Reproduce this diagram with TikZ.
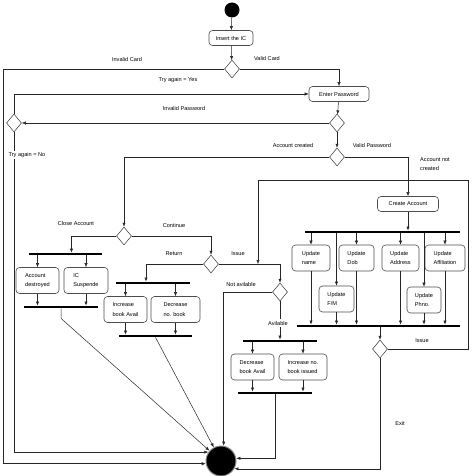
\documentclass[tikz,border=0pt]{standalone}
\usepackage{fontspec}
\setmainfont{Liberation Sans}
\usetikzlibrary{shapes.geometric,arrows.meta}

\begin{document}
\begin{tikzpicture}[x=1pt,y=-1pt,
  every node/.style={font=\fontsize{5.6}{9.5}\selectfont},
  >={Latex[length=4pt,width=3.2pt]},
  line/.style={draw=black!85, line width=0.5pt},
  act/.style={draw=black!70, line width=0.6pt, rounded corners=3.5pt, minimum height=26, align=left, inner sep=1pt},
  dec/.style={draw=black!80, shape=diamond, minimum width=15, minimum height=18, inner sep=0pt, line width=0.5pt},
  bar/.style={fill=black, inner sep=0pt, minimum height=2.4pt},
  lbl/.style={inner sep=1pt}]
\useasboundingbox (0,0) rectangle (474,476);

% start, card and password
\node[circle, fill=black, minimum size=15, inner sep=0pt] (start) at (232,10) {};
\node[act, minimum height=15, minimum width=44] (ins) at (231,38) {Insert the IC};
\node[dec] (d1) at (232,69) {};
\node[act, minimum height=15, minimum width=60] (pwd) at (339,94) {Enter Password};
\node[dec] (d2) at (337,123) {};
\node[dec] (dl) at (14,123) {};
\node[dec] (d3) at (337,157) {};
\node[act, minimum height=15, minimum width=61] (cre) at (408,204) {Create Account};

% final state
\node[circle, fill=black, draw=black!45, line width=1pt, minimum size=30, inner sep=0pt] (fin) at (221,461) {};

% close account / continue
\node[dec] (d5) at (124,236) {};
\node[bar, minimum width=73] (b1) at (65.5,254) {};
\node[act, minimum width=43] (ad) at (37.5,280.5) {Account\\destroyed};
\node[act, minimum width=44] (ic) at (86,280.5) {IC\\Suspende};
\node[bar, minimum width=74] (b2) at (61,307) {};

\node[dec] (d6) at (211,264) {};
\node[bar, minimum width=74] (b3) at (153,283) {};
\node[act, minimum width=43] (ib) at (125.5,309.5) {Increase\\book Avail};
\node[act, minimum width=49] (db) at (175.5,309.5) {Decrease\\no. book};
\node[bar, minimum width=73] (b4) at (155.5,336) {};

\node[dec] (d7) at (280,292) {};
\node[bar, minimum width=74] (b5) at (280,341) {};
\node[act, minimum width=43] (dba) at (252.5,367) {Decrease\\book Avail};
\node[act, minimum width=48] (inb) at (303,367) {Increase no.\\book issued};
\node[bar, minimum width=74] (b6) at (275,393) {};

% update account
\node[bar, minimum width=155] (b7) at (382.5,232) {};
\node[act, minimum width=38] (un) at (311,258) {Update\\name};
\node[act, minimum width=35] (ud) at (356.5,258) {Update\\Dob};
\node[act, minimum width=37] (ua) at (400.5,258) {Update\\Address};
\node[act, minimum width=40] (uaf) at (445,258) {Update\\Affiliation};
\node[act, minimum width=35] (uf) at (336.5,299) {Update\\F/M};
\node[act, minimum width=34] (up) at (424,300) {Update\\Phno.};
\node[bar, minimum width=163] (b8) at (378.5,326) {};
\node[dec] (d8) at (380,349) {};

\coordinate (lo) at (3,0);
\coordinate (rt) at (468,180);
\coordinate (it) at (258,180);

% connectors
\draw[line,->] (start) -- (ins);
\draw[line,->] (ins) -- (d1);
\draw[line,->] (d1.east) -| (pwd.north);
\draw[line,->] (d1.west) -| (fin.190 -| lo) -- (fin.190);
\draw[line,->] (pwd) -- (d2);
\draw[line,->] (d2.west) -- (dl.east);
\draw[line,->] (dl.north) |- (pwd.west);
\draw[line,->] (dl.south) |- (fin.145);
\draw[line,->] (d2) -- (d3);
\draw[line,->] (d3.west) -| (d5.north);
\draw[line,->] (d3.east) -| (cre.north);
\draw[line,->] (cre.south) -- (cre.south |- b7.north);

\draw[line,->] (d5.west) -| ([xshift=6pt]b1.north);
\draw[line,->] (b1.south -| ad.north) -- (ad.north);
\draw[line,->] (b1.south -| ic.north) -- (ic.north);
\draw[line,->] (ad.south) -- (ad.south |- b2.north);
\draw[line,->] (ic.south) -- (ic.south |- b2.north);
\draw[line,->] (b2.south) -- ++(0,10) -- (fin);

\draw[line,->] (d5.east) -| (d6.north);
\draw[line,->] (d6.west) -| ([xshift=-7pt]b3.north);
\draw[line,->] (b3.south -| ib.north) -- (ib.north);
\draw[line,->] (b3.south -| db.north) -- (db.north);
\draw[line,->] (ib.south) -- (ib.south |- b4.north);
\draw[line,->] (db.south) -- (db.south |- b4.north);
\draw[line,->] (b4.south) -- (fin);

\draw[line,->] (d6.east) -| (d7.north);
\draw[line,->] (d7.west) -| (fin.80);
\draw[line,->] (d7.south) -- (d7.south |- b5.north);
\draw[line,->] (b5.south -| dba.north) -- (dba.north);
\draw[line,->] (b5.south -| inb.north) -- (inb.north);
\draw[line,->] (dba.south) -- (dba.south |- b6.north);
\draw[line,->] (inb.south) -- (inb.south |- b6.north);
\draw[line,->] (b6.south) |- (fin.10);

\foreach \u in {un,ud,ua,uaf,uf,up}{
  \draw[line,->] (b7.south -| \u.north) -- (\u.north);
  \draw[line,->] (\u.south) -- (\u.south |- b8.north);
}
\draw[line,->] (b8.south -| d8.north) -- (d8.north);
\draw[line,->] (d8.east) -| (rt) -- (it) -- (it |- d6);
\draw[line,->] (d8.south) |- (fin.-30);

% guard labels
\node[lbl] (lic) at (127,59) {Invalid Card};
\node[lbl] (lvc) at (267,58) {Valid Card};
\node[lbl] (lty) at (178,80) {Try again = Yes};
\node[lbl] (lip) at (184,108) {Invalid Password};
\node[lbl, fill=white, inner sep=1.5pt] (ltn) at (27,155) {Try again = No};
\node[lbl] (lac) at (293,145) {Account created};
\node[lbl] (lvp) at (372,145) {Valid Password};
\node[lbl, align=left] (lan) at (435,164) {Account not\\created};
\node[lbl] (lca) at (76,223) {Close Account};
\node[lbl] (lco) at (174,225) {Continue};
\node[lbl] (lre) at (174,254) {Return};
\node[lbl] (lis) at (238,254) {Issue};
\node[lbl] (lna) at (241,284) {Not avilable};
\node[lbl, fill=white, inner sep=1.5pt] (lav) at (278,323) {Avilable};
\node[lbl] (li2) at (422,341) {Issue};
\node[lbl] (lex) at (400,423) {Exit};

\end{tikzpicture}
\end{document}
